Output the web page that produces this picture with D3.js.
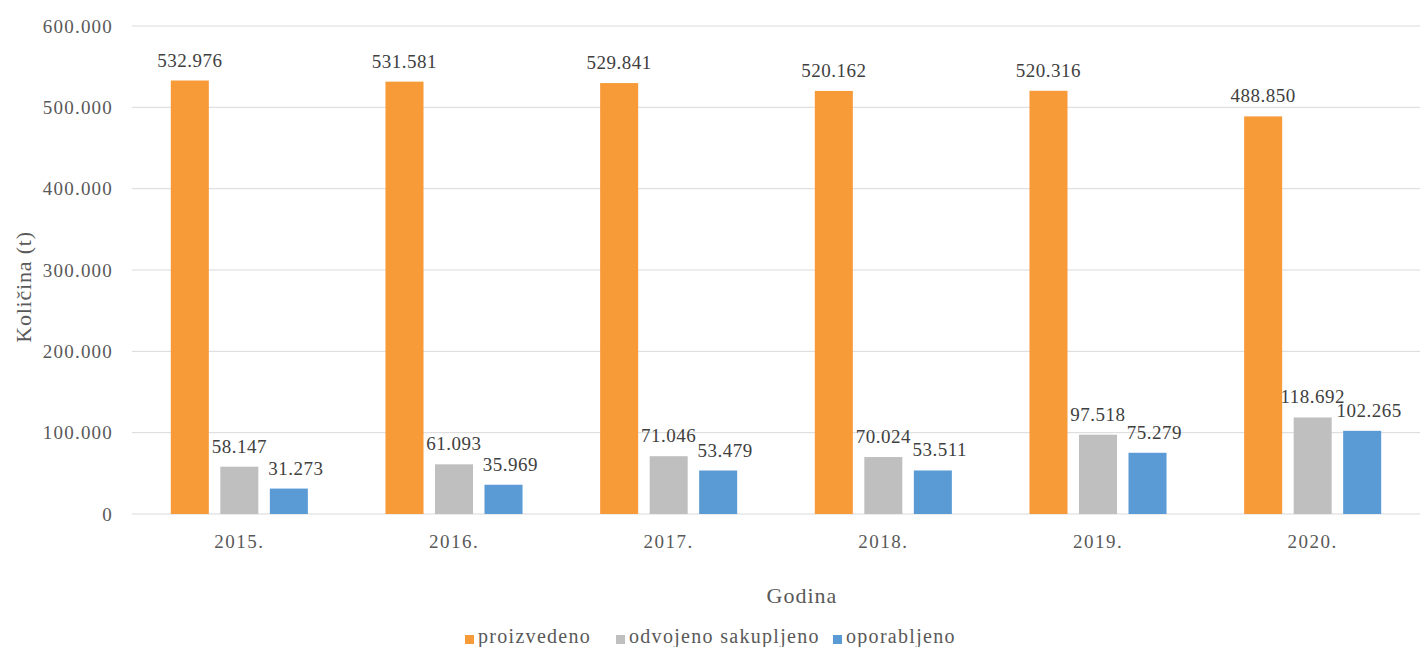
<!DOCTYPE html>
<html>
<head>
<meta charset="utf-8">
<script src="https://cdn.jsdelivr.net/npm/d3@7"></script>
<style>
  html, body { margin: 0; padding: 0; background: #fff; }
  svg { display: block; }
</style>
</head>
<body>
<svg id="chart" width="1422" height="647"></svg>
<script>
// Package waste quantities per year (tonnes)
const years = ["2015.", "2016.", "2017.", "2018.", "2019.", "2020."];
const seriesNames = ["proizvedeno", "odvojeno sakupljeno", "oporabljeno"];
const proizvedeno = [532976, 531581, 529841, 520162, 520316, 488850];
const odvojeno = [58147, 61093, 71046, 70024, 97518, 118692];
const oporabljeno = [31273, 35969, 53479, 53511, 75279, 102265];
const yTicks = [0, 100000, 200000, 300000, 400000, 500000, 600000];
const colors = ["#F79A38", "#BFBFBF", "#5B9BD5"];

const seriesValues = [proizvedeno, odvojeno, oporabljeno];
const FONT = "'Liberation Serif', 'DejaVu Serif', serif";

const svg = d3.select("#chart").attr("font-family", FONT);
const margin = { left: 132, right: 2, top: 26, bottom: 133 };
const W = 1422, H = 647;

const fmt = v => d3.format(",")(v).replace(/,/g, ".");

const x = d3.scaleBand().domain(years).range([margin.left, W - margin.right]).paddingInner(0).paddingOuter(0);
const xs = d3.scaleBand().domain(seriesNames).range([0, x.bandwidth()]).paddingInner(0.232).paddingOuter(0.784);
const y = d3.scaleLinear().domain([0, 600000]).range([H - margin.bottom, margin.top]);

// gridlines
svg.append("g").selectAll("line").data(yTicks).join("line")
  .attr("x1", margin.left).attr("x2", W - margin.right)
  .attr("y1", d => y(d)).attr("y2", d => y(d))
  .attr("stroke", "#D9D9D9").attr("stroke-width", 1);

// y axis labels
const yAxis = d3.axisLeft(y).tickValues(yTicks).tickSize(0).tickPadding(0)
  .tickFormat(d => d === 0 ? "0" : fmt(d));
const ya = svg.append("g").attr("transform", `translate(${margin.left - 19},0)`).call(yAxis)
  .attr("font-family", FONT).attr("font-size", 19);
ya.select(".domain").remove();
ya.selectAll("text").attr("fill", "#595959").attr("letter-spacing", 1.2);

// x axis labels
const xAxis = d3.axisBottom(x).tickSize(0).tickPadding(0);
const xa = svg.append("g").attr("transform", `translate(0,${y(0) + 20})`).call(xAxis)
  .attr("font-family", FONT).attr("font-size", 19);
xa.select(".domain").remove();
xa.selectAll("text").attr("fill", "#595959").attr("letter-spacing", 1.5);

// bars and value labels
const groups = svg.append("g").selectAll("g").data(years).join("g")
  .attr("transform", d => `translate(${x(d)},0)`);

const labelShift = [0, 0, 7];
seriesNames.forEach((s, si) => {
  groups.append("rect")
    .attr("x", xs(s)).attr("width", xs.bandwidth())
    .attr("y", (d, i) => y(seriesValues[si][i]))
    .attr("height", (d, i) => y(0) - y(seriesValues[si][i]))
    .attr("fill", colors[si]);
  groups.append("text")
    .attr("x", xs(s) + xs.bandwidth() / 2 + labelShift[si])
    .attr("y", (d, i) => y(seriesValues[si][i]) - 14)
    .attr("text-anchor", "middle")
    .attr("font-size", 19).attr("letter-spacing", 0.5).attr("fill", "#404040")
    .text((d, i) => fmt(seriesValues[si][i]));
});

// axis titles
svg.append("text").attr("x", (margin.left + W - margin.right) / 2 + 26).attr("y", 603)
  .attr("text-anchor", "middle").attr("font-size", 22).attr("letter-spacing", 1)
  .attr("fill", "#595959").text("Godina");
svg.append("text").attr("transform", "translate(31,287) rotate(-90)")
  .attr("text-anchor", "middle").attr("font-size", 22).attr("letter-spacing", 0.8)
  .attr("fill", "#595959").text("Količina (t)");

// legend
const legendX = [465, 616, 833];
const lg = svg.append("g").selectAll("g").data(seriesNames).join("g")
  .attr("transform", (d, i) => `translate(${legendX[i]},635)`);
lg.append("rect").attr("x", 0).attr("y", 0).attr("width", 9).attr("height", 9)
  .attr("fill", (d, i) => colors[i]);
lg.append("text").attr("x", 13).attr("y", 8).attr("font-size", 20).attr("letter-spacing", 1.3)
  .attr("fill", "#595959").text(d => d);
</script>
</body>
</html>
